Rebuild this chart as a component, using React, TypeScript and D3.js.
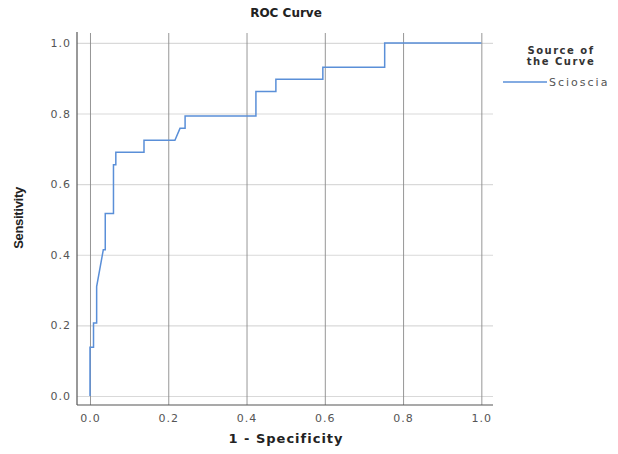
import React, { useEffect, useRef } from "react";
import * as d3 from "d3";

// ROC curve steps (1 - specificity, sensitivity)
const fpr = [0, 0, 0.009, 0.009, 0.017, 0.017, 0.034, 0.039, 0.039, 0.06, 0.06, 0.066, 0.066, 0.138, 0.138, 0.217, 0.23, 0.243, 0.243, 0.424, 0.424, 0.475, 0.475, 0.595, 0.595, 0.753, 0.753, 1];
const tpr = [0, 0.138, 0.138, 0.207, 0.207, 0.31, 0.414, 0.414, 0.517, 0.517, 0.655, 0.655, 0.69, 0.69, 0.724, 0.724, 0.758, 0.758, 0.793, 0.793, 0.862, 0.862, 0.897, 0.897, 0.931, 0.931, 1, 1];
const xTicks = [0, 0.2, 0.4, 0.6, 0.8, 1];
const yTicks = [0, 0.2, 0.4, 0.6, 0.8, 1];
const seriesName = "Scioscia";

export default function App() {
  const ref = useRef<SVGSVGElement>(null);

  useEffect(() => {
    const svg = d3.select(ref.current);
    svg.selectAll("*").remove();

    const left = 77, right = 493, top = 33, bottom = 405;
    const x = d3.scaleLinear().domain([-0.0332, 1.0298]).range([left, right]);
    const y = d3.scaleLinear().domain([-0.0255, 1.028]).range([bottom, top]);
    const font = "'DejaVu Sans', Verdana, sans-serif";
    const font2 = "'Liberation Sans', Arial, sans-serif";

    const g = svg.append("g");

    // horizontal grid
    g.append("g")
      .attr("transform", "translate(" + left + ",0)")
      .call(d3.axisLeft(y).tickValues(yTicks).tickSize(-(right - left)).tickFormat(() => ""))
      .call((a) => a.select(".domain").remove())
      .selectAll("line").attr("stroke", "#d9d9d9").attr("stroke-width", 1.2);

    // vertical grid
    g.append("g")
      .attr("transform", "translate(0," + bottom + ")")
      .call(d3.axisBottom(x).tickValues(xTicks).tickSize(-(bottom - top)).tickFormat(() => ""))
      .call((a) => a.select(".domain").remove())
      .selectAll("line").attr("stroke", "#8a8a8a").attr("stroke-width", 0.9);

    // tick labels
    g.append("g")
      .attr("transform", "translate(0," + bottom + ")")
      .call(d3.axisBottom(x).tickValues(xTicks).tickSize(0).tickPadding(9).tickFormat(d3.format(".1f")))
      .call((a) => a.select(".domain").remove())
      .selectAll("text").attr("fill", "#555").attr("letter-spacing", "1px").style("font", "11px " + font);

    g.append("g")
      .attr("transform", "translate(" + left + ",0)")
      .call(d3.axisLeft(y).tickValues(yTicks).tickSize(0).tickPadding(6).tickFormat(d3.format(".1f")))
      .call((a) => a.select(".domain").remove())
      .selectAll("text").attr("fill", "#555").attr("letter-spacing", "1px").style("font", "11px " + font);

    // axis lines
    g.append("line").attr("x1", left).attr("x2", left).attr("y1", top - 1).attr("y2", bottom)
      .attr("stroke", "#555").attr("stroke-width", 1.2);
    g.append("line").attr("x1", left).attr("x2", right).attr("y1", bottom).attr("y2", bottom)
      .attr("stroke", "#555").attr("stroke-width", 1.2);

    // curve
    const pts: [number, number][] = fpr.map((f, i) => [f, tpr[i]]);
    const line = d3.line<[number, number]>()
      .x((d) => x(d[0]))
      .y((d) => y(d[1]));
    g.append("path")
      .attr("d", line(pts))
      .attr("fill", "none")
      .attr("stroke", "#5a8fd8")
      .attr("stroke-width", 1.5);

    // titles
    svg.append("text").attr("x", 286).attr("y", 17).attr("text-anchor", "middle")
      .style("font", "bold 12px " + font).attr("fill", "#222").text("ROC Curve");
    svg.append("text").attr("x", 286).attr("y", 443).attr("text-anchor", "middle")
      .style("font", "bold 13px " + font).attr("fill", "#222").attr("letter-spacing", "1px")
      .text("1 - Specificity");
    svg.append("text").attr("transform", "translate(23,218) rotate(-90)").attr("text-anchor", "middle")
      .style("font", "bold 13px " + font2).attr("fill", "#222").attr("letter-spacing", "-0.3px")
      .text("Sensitivity");

    // legend
    svg.append("text").attr("x", 561).attr("y", 54).attr("text-anchor", "middle")
      .style("font", "bold 10px " + font).attr("fill", "#333").attr("letter-spacing", "1.5px").text("Source of");
    svg.append("text").attr("x", 561).attr("y", 65).attr("text-anchor", "middle")
      .style("font", "bold 10px " + font).attr("fill", "#333").attr("letter-spacing", "1.5px").text("the Curve");
    svg.append("line").attr("x1", 503).attr("x2", 547).attr("y1", 82).attr("y2", 82)
      .attr("stroke", "#5a8fd8").attr("stroke-width", 1.5);
    svg.append("text").attr("x", 549).attr("y", 86)
      .style("font", "11px " + font).attr("fill", "#555").attr("letter-spacing", "2px")
      .text(seriesName);
  }, []);

  return (
    <svg ref={ref} width={618} height={454}
      style={{ position: "absolute", left: 0, top: 0, background: "#fff" }} />
  );
}
